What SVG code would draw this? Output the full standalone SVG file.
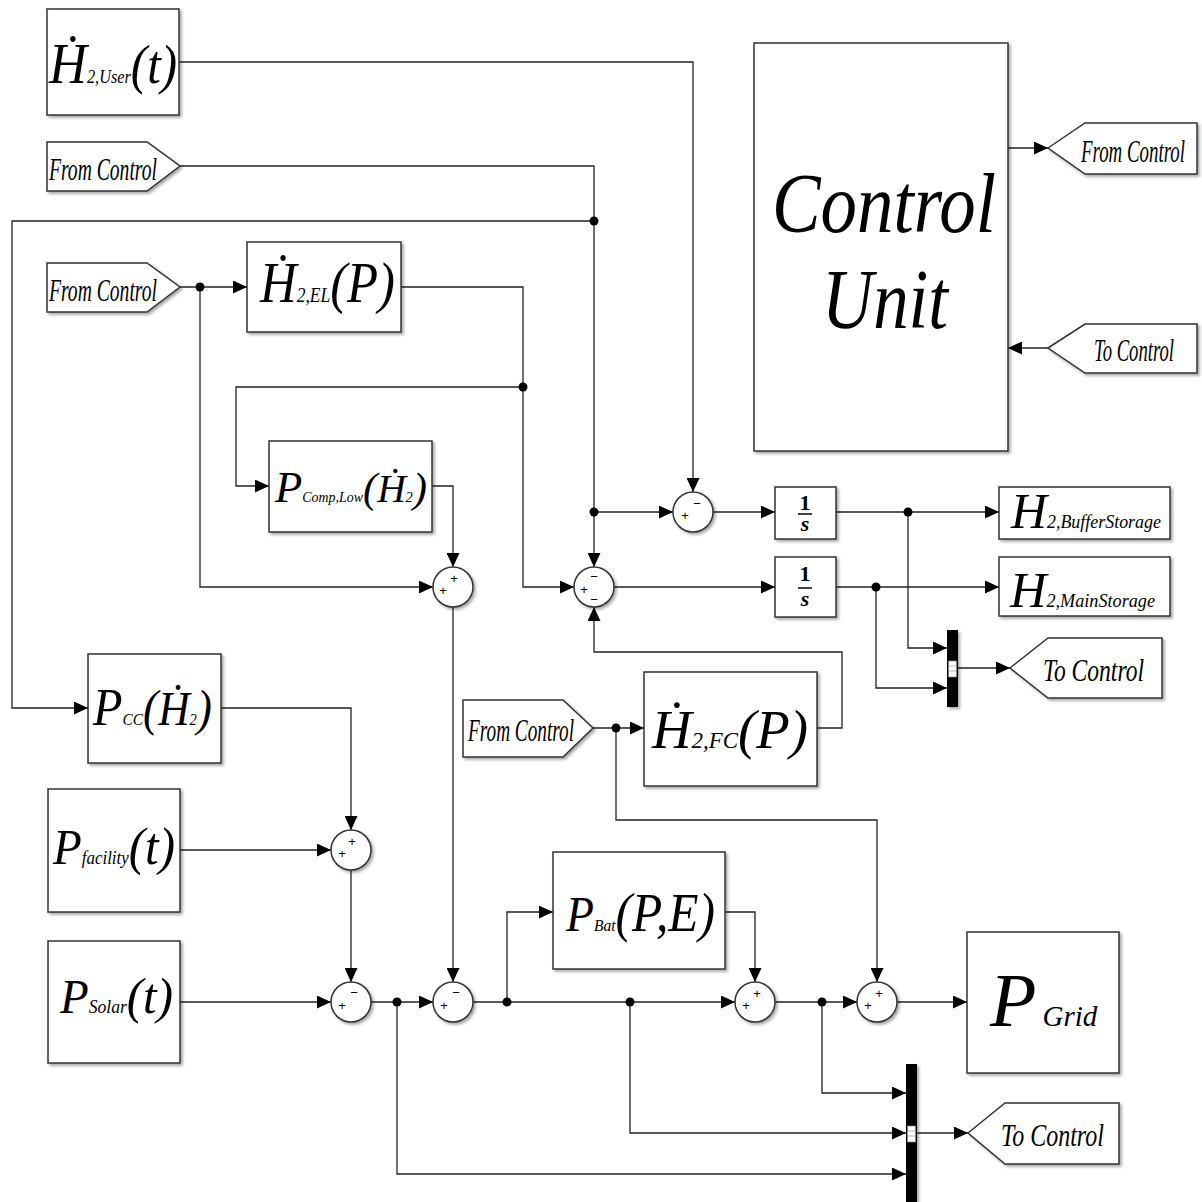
<svg xmlns="http://www.w3.org/2000/svg" width="1202" height="1202" viewBox="0 0 1202 1202">
<defs>
<style>
.bx{fill:#fff;stroke:#333;stroke-width:1.5;filter:url(#sh)}
.w{fill:none;stroke:#222;stroke-width:1.3}
.wa{fill:none;stroke:#222;stroke-width:1.3;marker-end:url(#ah)}
.dot{fill:#000}
.m{font-family:"Liberation Serif","Times New Roman",serif;font-style:italic;fill:#000}
.tg{font-family:"Liberation Serif","Times New Roman",serif;font-style:italic;font-size:32px;fill:#000}
.sg{font-family:"Liberation Sans",Arial,sans-serif;font-size:13px;text-anchor:middle;fill:#000}
.mux{fill:#000;filter:url(#sh2)}
.mw{fill:#fff;stroke:#888;stroke-width:0.6}
.int{font-family:"Liberation Serif","Times New Roman",serif;font-weight:bold;font-size:22px;text-anchor:middle;fill:#000}
</style>
<filter id="sh" x="-10%" y="-10%" width="130%" height="130%"><feDropShadow dx="2" dy="2" stdDeviation="1.5" flood-color="#000" flood-opacity="0.35"/></filter>
<filter id="sh2" x="-100%" y="-10%" width="300%" height="130%"><feDropShadow dx="2" dy="2" stdDeviation="1.5" flood-color="#000" flood-opacity="0.35"/></filter>
<marker id="ah" markerUnits="userSpaceOnUse" markerWidth="14" markerHeight="13" refX="14" refY="6.5" orient="auto"><path d="M0,0 L14,6.5 L0,13 z" fill="#000"/></marker>
</defs>
<rect width="1202" height="1202" fill="#fff"/>

<g id="connectors">
<path class="wa" d="M179,62 H693 V492"/>
<path class="w" d="M180,166 H594 V221"/>
<path class="wa" d="M594,221 V567"/>
<path class="wa" d="M594,221 H12 V708 H88"/>
<path class="wa" d="M594,512 H673"/>
<path class="wa" d="M180,287 H247"/>
<path class="wa" d="M200,287 V587 H433"/>
<path class="wa" d="M401,287 H523 V587 H574"/>
<path class="wa" d="M523,387 H236 V486 H269"/>
<path class="wa" d="M432,486 H453 V567"/>
<path class="wa" d="M453,607 V982"/>
<path class="wa" d="M713,512 H775"/>
<path class="wa" d="M836,512 H999"/>
<path class="wa" d="M908,512 V648 H947"/>
<path class="wa" d="M614,587 H775"/>
<path class="wa" d="M836,587 H999"/>
<path class="wa" d="M876,587 V688 H947"/>
<path class="wa" d="M958,668 H1010"/>
<path class="wa" d="M817,728 H842 V652 H594 V607"/>
<path class="wa" d="M593,728 H644"/>
<path class="wa" d="M616,728 V820 H877 V982"/>
<path class="wa" d="M221,708 H351 V830"/>
<path class="wa" d="M180,850 H331"/>
<path class="wa" d="M351,870 V982"/>
<path class="wa" d="M180,1002 H331"/>
<path class="wa" d="M371,1002 H433"/>
<path class="wa" d="M397,1002 V1174 H906"/>
<path class="wa" d="M473,1002 H735"/>
<path class="wa" d="M507,1002 V912 H553"/>
<path class="wa" d="M725,912 H755 V982"/>
<path class="wa" d="M630,1002 V1133 H906"/>
<path class="wa" d="M775,1002 H857"/>
<path class="wa" d="M822,1002 V1093 H906"/>
<path class="wa" d="M897,1002 H967"/>
<path class="wa" d="M917,1133 H968"/>
<path class="wa" d="M1008,148 H1048"/>
<path class="wa" d="M1048,348 H1008"/>
<circle class="dot" cx="594" cy="221" r="4.5"/>
<circle class="dot" cx="594" cy="512" r="4.5"/>
<circle class="dot" cx="200" cy="287" r="4.5"/>
<circle class="dot" cx="523" cy="387" r="4.5"/>
<circle class="dot" cx="908" cy="512" r="4.5"/>
<circle class="dot" cx="876" cy="587" r="4.5"/>
<circle class="dot" cx="616" cy="728" r="4.5"/>
<circle class="dot" cx="397" cy="1002" r="4.5"/>
<circle class="dot" cx="507" cy="1002" r="4.5"/>
<circle class="dot" cx="630" cy="1002" r="4.5"/>
<circle class="dot" cx="822" cy="1002" r="4.5"/>
</g>

<g id="h2user">
<rect class="bx" x="47" y="9" width="132" height="106"/>
<text class="m" x="49" y="83" textLength="128" lengthAdjust="spacingAndGlyphs"><tspan font-size="58">Ḣ</tspan><tspan font-size="18">2,User</tspan><tspan font-size="54">(t)</tspan></text>
</g>

<g id="from1">
<polygon class="bx" points="47,142 147,142 180,166 147,191 47,191"/>
<text class="tg" x="49" y="180" textLength="108" lengthAdjust="spacingAndGlyphs">From Control</text>
</g>

<g id="from2">
<polygon class="bx" points="47,263 147,263 180,287 147,312 47,312"/>
<text class="tg" x="49" y="301" textLength="108" lengthAdjust="spacingAndGlyphs">From Control</text>
</g>

<g id="h2el">
<rect class="bx" x="247" y="242" width="154" height="90"/>
<text class="m" x="260" y="302" textLength="135" lengthAdjust="spacingAndGlyphs"><tspan font-size="58">Ḣ</tspan><tspan font-size="20">2,EL</tspan><tspan font-size="58">(P)</tspan></text>
</g>

<g id="pcomplow">
<rect class="bx" x="269" y="441" width="163" height="91"/>
<text class="m" x="275" y="502" textLength="152" lengthAdjust="spacingAndGlyphs"><tspan font-size="45">P</tspan><tspan font-size="14">Comp,Low</tspan><tspan font-size="43">(</tspan><tspan font-size="40">Ḣ</tspan><tspan font-size="14">2</tspan><tspan font-size="43">)</tspan></text>
</g>

<g id="sum3">
<circle class="bx" cx="453" cy="587" r="20"/>
<text class="sg" x="443" y="595">+</text><text class="sg" x="454" y="583">+</text>
</g>

<g id="sum2">
<circle class="bx" cx="594" cy="587" r="20"/>
<text class="sg" x="584" y="594">+</text><text class="sg" x="594" y="581">−</text><text class="sg" x="594" y="604">−</text>
</g>

<g id="sum1">
<circle class="bx" cx="693" cy="512" r="20"/>
<text class="sg" x="685" y="520">+</text><text class="sg" x="697" y="508">−</text>
</g>

<g id="int1">
<rect class="bx" x="775" y="487" width="61" height="52"/>
<text class="int" x="805" y="510">1</text>
<line x1="798" y1="514" x2="812" y2="514" stroke="#000" stroke-width="1.5"/>
<text class="int" x="805" y="531" font-style="italic">s</text>
</g>

<g id="int2">
<rect class="bx" x="775" y="557" width="61" height="60"/>
<text class="int" x="805" y="581">1</text>
<line x1="798" y1="588" x2="812" y2="588" stroke="#000" stroke-width="1.5"/>
<text class="int" x="805" y="606" font-style="italic">s</text>
</g>

<g id="buffer">
<rect class="bx" x="999" y="487" width="171" height="52"/>
<text class="m" x="1011" y="528" textLength="150" lengthAdjust="spacingAndGlyphs"><tspan font-size="50">H</tspan><tspan font-size="18">2,BufferStorage</tspan></text>
</g>

<g id="mainstorage">
<rect class="bx" x="999" y="557" width="171" height="59"/>
<text class="m" x="1010" y="607" textLength="145" lengthAdjust="spacingAndGlyphs"><tspan font-size="50">H</tspan><tspan font-size="18">2,MainStorage</tspan></text>
</g>

<g id="mux1">
<rect class="mux" x="947" y="630" width="11" height="77"/>
<rect class="mw" x="948.5" y="661" width="8" height="16"/>
<line x1="948.5" y1="666" x2="956.5" y2="666" stroke="#888" stroke-width="0.6"/>
<line x1="948.5" y1="671" x2="956.5" y2="671" stroke="#888" stroke-width="0.6"/>
</g>

<g id="to1">
<polygon class="bx" points="1010,668 1048,638 1162,638 1162,698 1048,698"/>
<text class="tg" x="1043" y="681" font-size="34" textLength="101" lengthAdjust="spacingAndGlyphs">To Control</text>
</g>

<g id="control">
<rect class="bx" x="754" y="43" width="254" height="408"/>
<text class="m" x="772" y="232" font-size="84" textLength="224" lengthAdjust="spacingAndGlyphs">Control</text>
<text class="m" x="822" y="328" font-size="84" textLength="126" lengthAdjust="spacingAndGlyphs">Unit</text>
</g>

<g id="fromR">
<polygon class="bx" points="1048,148 1085,123 1197,123 1197,174 1085,174"/>
<text class="tg" x="1081" y="162" textLength="104" lengthAdjust="spacingAndGlyphs">From Control</text>
</g>

<g id="toR">
<polygon class="bx" points="1048,348 1085,324 1197,324 1197,373 1085,373"/>
<text class="tg" x="1094" y="361" textLength="80" lengthAdjust="spacingAndGlyphs">To Control</text>
</g>

<g id="h2fc">
<rect class="bx" x="644" y="672" width="173" height="114"/>
<text class="m" x="652" y="748" textLength="156" lengthAdjust="spacingAndGlyphs"><tspan font-size="55">Ḣ</tspan><tspan font-size="23">2,FC</tspan><tspan font-size="55">(P)</tspan></text>
</g>

<g id="from3">
<polygon class="bx" points="463,700 563,700 593,728 563,757 463,757"/>
<text class="tg" x="468" y="741" textLength="106" lengthAdjust="spacingAndGlyphs">From Control</text>
</g>

<g id="pcc">
<rect class="bx" x="88" y="654" width="133" height="109"/>
<text class="m" x="93" y="725" textLength="119" lengthAdjust="spacingAndGlyphs"><tspan font-size="53">P</tspan><tspan font-size="17">CC</tspan><tspan font-size="50">(</tspan><tspan font-size="48">Ḣ</tspan><tspan font-size="16">2</tspan><tspan font-size="50">)</tspan></text>
</g>

<g id="pfacility">
<rect class="bx" x="48" y="789" width="132" height="123"/>
<text class="m" x="53" y="864" textLength="122" lengthAdjust="spacingAndGlyphs"><tspan font-size="50">P</tspan><tspan font-size="18">facility</tspan><tspan font-size="52">(t)</tspan></text>
</g>

<g id="psolar">
<rect class="bx" x="48" y="941" width="132" height="122"/>
<text class="m" x="60" y="1013" textLength="113" lengthAdjust="spacingAndGlyphs"><tspan font-size="48">P</tspan><tspan font-size="18">Solar</tspan><tspan font-size="50">(t)</tspan></text>
</g>

<g id="sum4">
<circle class="bx" cx="351" cy="850" r="20"/>
<text class="sg" x="342" y="858">+</text><text class="sg" x="352" y="846">+</text>
</g>

<g id="sum6">
<circle class="bx" cx="351" cy="1002" r="20"/>
<text class="sg" x="342" y="1010">+</text><text class="sg" x="354" y="997">−</text>
</g>

<g id="sum5">
<circle class="bx" cx="453" cy="1002" r="20"/>
<text class="sg" x="444" y="1010">+</text><text class="sg" x="456" y="997">−</text>
</g>

<g id="pbat">
<rect class="bx" x="553" y="852" width="172" height="117"/>
<text class="m" x="566" y="931" textLength="149" lengthAdjust="spacingAndGlyphs"><tspan font-size="50">P</tspan><tspan font-size="17">Bat</tspan><tspan font-size="54">(P,E)</tspan></text>
</g>

<g id="sum8">
<circle class="bx" cx="755" cy="1002" r="20"/>
<text class="sg" x="746" y="1010">+</text><text class="sg" x="757" y="998">+</text>
</g>

<g id="sum7">
<circle class="bx" cx="877" cy="1002" r="20"/>
<text class="sg" x="868" y="1010">+</text><text class="sg" x="879" y="998">+</text>
</g>

<g id="pgrid">
<rect class="bx" x="967" y="932" width="152" height="141"/>
<text class="m" x="990" y="1026"><tspan font-size="76">P</tspan><tspan font-size="29" dx="6">Grid</tspan></text>
</g>

<g id="mux2">
<rect class="mux" x="906" y="1064" width="11" height="140"/>
<rect class="mw" x="907.5" y="1126" width="8" height="16"/>
<line x1="907.5" y1="1131" x2="915.5" y2="1131" stroke="#888" stroke-width="0.6"/>
<line x1="907.5" y1="1136" x2="915.5" y2="1136" stroke="#888" stroke-width="0.6"/>
</g>

<g id="to2">
<polygon class="bx" points="968,1133 1005,1103 1119,1103 1119,1164 1005,1164"/>
<text class="tg" x="1001" y="1146" font-size="34" textLength="103" lengthAdjust="spacingAndGlyphs">To Control</text>
</g>
</svg>
